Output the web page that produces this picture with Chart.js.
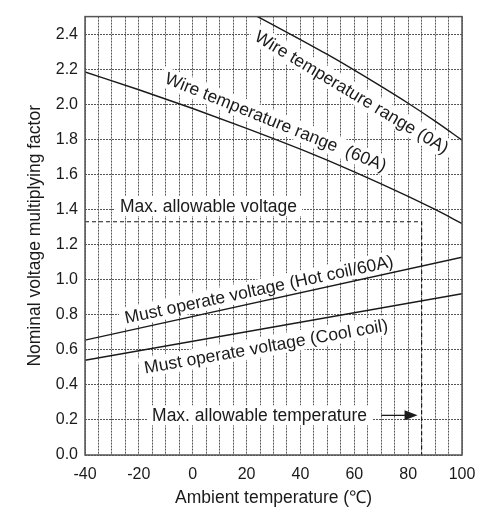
<!DOCTYPE html>
<html>
<head>
<meta charset="utf-8">
<script src="https://cdn.jsdelivr.net/npm/chart.js@4.4.1/dist/chart.umd.min.js"></script>
<style>
  html, body { margin: 0; padding: 0; background: #fff; }
  #wrap { width: 498px; height: 513px; position: relative; }
</style>
</head>
<body>
<div id="wrap"><canvas id="chart"></canvas></div>
<script>
// ambient temperature (°C) vs nominal voltage multiplying factor
const wire0ATemp = [24, 30, 40, 50, 60, 70, 80, 90, 100];
const wire0AFactor = [2.50, 2.452, 2.369, 2.284, 2.195, 2.102, 2.006, 1.904, 1.796];

const wire60ATemp = [-40, -20, 0, 20, 40, 60, 80, 90, 100];
const wire60AFactor = [2.184, 2.083, 1.976, 1.863, 1.744, 1.615, 1.475, 1.40, 1.32];

const hotCoilTemp = [-40, 100];
const hotCoilFactor = [0.655, 1.128];

const coolCoilTemp = [-40, 100];
const coolCoilFactor = [0.54, 0.92];

const maxVoltageTemp = [-40, 85, 85];
const maxVoltageFactor = [1.33, 1.33, 0];

const xTicks = [-40, -20, 0, 20, 40, 60, 80, 100];
const yTicks = [0, 0.2, 0.4, 0.6, 0.8, 1.0, 1.2, 1.4, 1.6, 1.8, 2.0, 2.2, 2.4];

const toPoints = (xs, ys) => xs.map((x, i) => ({ x, y: ys[i] }));

const FONT = "'Liberation Sans', Arial, sans-serif";
const INK = "#1a1a1a";

// labels placed in data units, drawn on white boxes over the grid
const notes = [
  { text: "Max. allowable voltage", x: -27, y: 1.42, angle: 0, align: "left" },
  { text: "Wire temperature range (0A)", x: 59.1, y: 2.07, angle: 31, align: "center" },
  { text: "Wire temperature range  (60A)", x: 30.9, y: 1.90, angle: 22, align: "center" },
  { text: "Must operate voltage (Hot coil/60A)", x: 24.6, y: 0.945, angle: -12, align: "center" },
  { text: "Must operate voltage (Cool coil)", x: 27.2, y: 0.62, angle: -10, align: "center" },
  { text: "Max. allowable temperature", x: -15.1, y: 0.226, angle: 0, align: "left" }
];
const arrow = { x0: 70, x1: 83.5, y: 0.226 };

const notesPlugin = {
  id: "notes",
  beforeDatasetsDraw(chart) {
    const { ctx, scales: { x, y } } = chart;
    ctx.save();
    ctx.font = "17.5px " + FONT;
    ctx.textBaseline = "middle";
    notes.forEach(n => {
      const px = x.getPixelForValue(n.x);
      const py = y.getPixelForValue(n.y);
      const w = ctx.measureText(n.text).width;
      ctx.save();
      ctx.translate(px, py);
      ctx.rotate(n.angle * Math.PI / 180);
      const left = n.align === "left" ? 0 : -w / 2;
      ctx.fillStyle = "#fff";
      ctx.fillRect(left - 5, -10, w + 10, 20);
      ctx.fillStyle = INK;
      ctx.textAlign = "left";
      ctx.fillText(n.text, left, 1);
      ctx.restore();
    });

    // arrow pointing at the max temperature line
    const ax0 = x.getPixelForValue(arrow.x0);
    const ax1 = x.getPixelForValue(arrow.x1);
    const ay = y.getPixelForValue(arrow.y);
    ctx.strokeStyle = INK;
    ctx.lineWidth = 1.3;
    ctx.beginPath();
    ctx.moveTo(ax0, ay);
    ctx.lineTo(ax1 - 10, ay);
    ctx.stroke();
    ctx.fillStyle = INK;
    ctx.beginPath();
    ctx.moveTo(ax1, ay);
    ctx.lineTo(ax1 - 13, ay - 5);
    ctx.lineTo(ax1 - 13, ay + 5);
    ctx.closePath();
    ctx.fill();
    ctx.restore();
  },
  afterDraw(chart) {
    const { ctx, chartArea: a } = chart;
    ctx.save();
    ctx.strokeStyle = "#555";
    ctx.lineWidth = 1.5;
    ctx.strokeRect(a.left, a.top, a.right - a.left, a.bottom - a.top);
    ctx.restore();
  }
};

const solid = (data) => ({
  data,
  borderColor: INK,
  borderWidth: 1.4,
  pointRadius: 0,
  cubicInterpolationMode: "monotone",
  fill: false
});

new Chart(document.getElementById("chart"), {
  type: "line",
  data: {
    datasets: [
      solid(toPoints(wire0ATemp, wire0AFactor)),
      solid(toPoints(wire60ATemp, wire60AFactor)),
      solid(toPoints(hotCoilTemp, hotCoilFactor)),
      solid(toPoints(coolCoilTemp, coolCoilFactor)),
      {
        data: toPoints(maxVoltageTemp, maxVoltageFactor),
        borderColor: INK,
        borderWidth: 1.2,
        borderDash: [4, 3],
        pointRadius: 0,
        tension: 0,
        fill: false
      }
    ]
  },
  options: {
    responsive: true,
    maintainAspectRatio: false,
    animation: false,
    layout: { padding: { left: 0, top: 13, right: 36, bottom: 0 } },
    plugins: {
      legend: { display: false },
      tooltip: { enabled: false }
    },
    scales: {
      x: {
        type: "linear",
        min: -40,
        max: 100,
        afterFit: (s) => { s.height = 58; },
        ticks: {
          stepSize: 5,
          autoSkip: false,
          maxRotation: 0,
          padding: 10,
          color: INK,
          font: { family: FONT, size: 16 },
          callback: (v) => xTicks.includes(v) ? String(v) : ""
        },
        grid: {
          color: "#555",
          lineWidth: 1,
          drawTicks: false
        },
        border: { display: false, dash: [2, 1] },
        title: {
          display: true,
          text: "Ambient temperature (℃)",
          color: INK,
          font: { family: FONT, size: 17.5 },
          padding: { top: 0, bottom: 4 }
        }
      },
      y: {
        min: 0,
        max: 2.5,
        afterFit: (s) => { s.width = 85; },
        afterBuildTicks: (s) => { s.ticks = yTicks.map(value => ({ value })); },
        ticks: {
          autoSkip: false,
          padding: 7,
          color: INK,
          font: { family: FONT, size: 16 },
          callback: (v) => v.toFixed(1)
        },
        grid: {
          color: "#555",
          lineWidth: 1,
          drawTicks: false
        },
        border: { display: false, dash: [2, 1] },
        title: {
          display: true,
          text: "Nominal voltage multiplying factor",
          color: INK,
          font: { family: FONT, size: 17.5 },
          padding: { top: 25, bottom: 0 }
        }
      }
    }
  },
  plugins: [notesPlugin]
});
</script>
</body>
</html>
